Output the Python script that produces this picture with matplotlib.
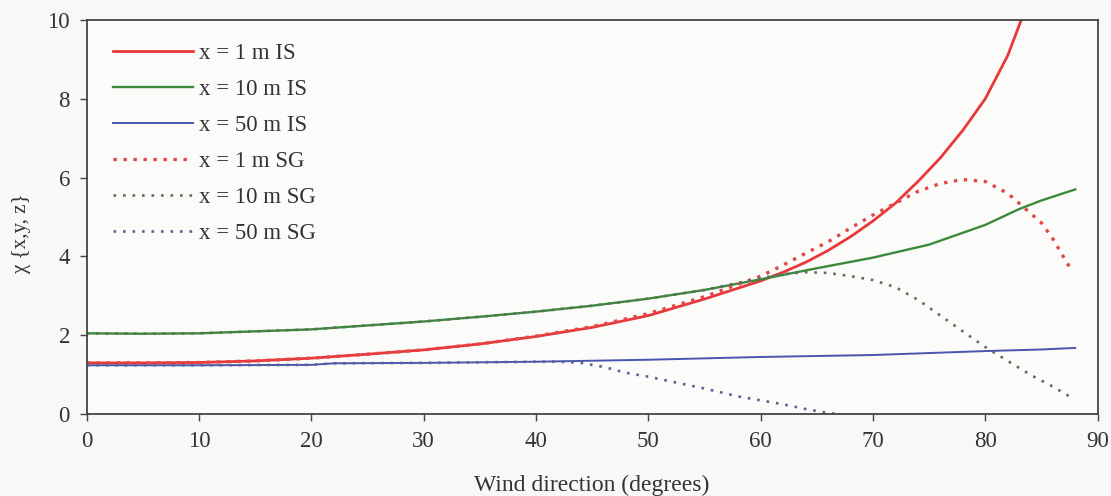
import numpy as np
import matplotlib.pyplot as plt

plt.rcParams['font.family'] = ['Liberation Serif', 'DejaVu Serif']

# Wind direction (degrees) and concentration ratio chi for the IS and SG models
deg_1is = [0, 5, 10, 15, 20, 25, 30, 35, 40, 45, 50, 55, 60, 62, 64, 66, 68,
           70, 72, 74, 76, 78, 80, 82, 83.2]
chi_1is = [1.30, 1.30, 1.31, 1.35, 1.42, 1.52, 1.63, 1.78, 1.97, 2.20, 2.50,
           2.92, 3.38, 3.60, 3.85, 4.15, 4.50, 4.90, 5.35, 5.90, 6.50, 7.20,
           8.00, 9.10, 10.0]

deg_10is = [0, 5, 10, 15, 20, 25, 30, 35, 40, 45, 50, 55, 60, 65, 70, 75, 77,
            80, 83, 85, 88]
chi_10is = [2.05, 2.04, 2.05, 2.10, 2.15, 2.25, 2.35, 2.47, 2.60, 2.75, 2.93,
            3.15, 3.42, 3.70, 3.97, 4.30, 4.50, 4.80, 5.20, 5.42, 5.70]

deg_50is = [0, 10, 20, 22, 30, 40, 50, 60, 70, 75, 80, 85, 88]
chi_50is = [1.24, 1.24, 1.25, 1.29, 1.30, 1.33, 1.38, 1.45, 1.50, 1.55, 1.60,
            1.64, 1.68]

deg_1sg = [0, 5, 10, 15, 20, 25, 30, 35, 40, 45, 50, 55, 60, 62, 64, 66, 68,
           70, 72, 74, 76, 78, 80, 82, 84, 85, 86, 87.5]
chi_1sg = [1.30, 1.30, 1.31, 1.35, 1.42, 1.52, 1.63, 1.78, 1.98, 2.22, 2.55,
           2.98, 3.50, 3.78, 4.08, 4.37, 4.72, 5.05, 5.35, 5.65, 5.85, 5.95,
           5.90, 5.60, 5.10, 4.85, 4.45, 3.73]

deg_10sg = [0, 5, 10, 15, 20, 25, 30, 35, 40, 45, 50, 55, 60, 62, 64, 66, 68,
            70, 72, 74, 76, 78, 80, 82, 84, 86, 87.5]
chi_10sg = [2.05, 2.04, 2.05, 2.10, 2.15, 2.25, 2.35, 2.47, 2.60, 2.75, 2.93,
            3.15, 3.45, 3.55, 3.60, 3.58, 3.50, 3.40, 3.22, 2.90, 2.50, 2.10,
            1.70, 1.35, 1.00, 0.70, 0.45]

deg_50sg = [0, 10, 20, 22, 30, 40, 42, 44, 46, 48, 50, 52, 55, 58, 60, 62, 64,
            66, 67]
chi_50sg = [1.24, 1.24, 1.25, 1.29, 1.30, 1.33, 1.33, 1.30, 1.20, 1.05, 0.95,
            0.83, 0.65, 0.45, 0.35, 0.25, 0.13, 0.03, 0.0]

fig = plt.figure(figsize=(11.11, 4.96), dpi=100, facecolor='#f8f8f6')
ax = fig.add_axes([0.078, 0.165, 0.91, 0.795])
ax.set_facecolor('#fbfbfa')

ax.plot(deg_1is, chi_1is, color='#e8383a', lw=2.0, label='x = 1 m IS')
ax.plot(deg_10is, chi_10is, color='#3a8a3a', lw=1.7, label='x = 10 m IS')
ax.plot(deg_50is, chi_50is, color='#4a55b0', lw=1.4, label='x = 50 m IS')
ax.plot(deg_1sg, chi_1sg, color='#e04848', lw=2.4, ls=(0, (1, 2.0)),
        label='x = 1 m SG')
ax.plot(deg_10sg, chi_10sg, color='#5b7060', lw=1.9, ls=(0, (1, 2.6)),
        label='x = 10 m SG')
ax.plot(deg_50sg, chi_50sg, color='#5a6494', lw=1.9, ls=(0, (1, 2.6)),
        label='x = 50 m SG')

ax.set_xlim(0, 90)
ax.set_ylim(0, 10)
ax.set_xticks(range(0, 91, 10))
ax.set_yticks(range(0, 11, 2))
ax.tick_params(direction='out', length=5, width=1, colors='#444444',
               labelsize=16.5, labelcolor='#333333', pad=7)
for s in ax.spines.values():
    s.set_color('#444444')
    s.set_linewidth(1.3)

ax.set_xlabel('Wind direction (degrees)', fontsize=17, color='#333333')
ax.xaxis.set_label_coords(0.5, -0.155, transform=ax.transAxes)
ax.xaxis.label.set_va('top')
ax.set_ylabel('χ {x,y, z}', fontsize=15, color='#333333')
ax.yaxis.set_label_coords(-0.055, 0.46)

leg = ax.legend(loc='upper left', frameon=False, fontsize=16.5,
                handlelength=3.5, handletextpad=0.25, labelspacing=0.65,
                borderaxespad=0.0, bbox_to_anchor=(0.017, 0.965))
for t in leg.get_texts():
    t.set_color('#333333')

fig.savefig('out.png', dpi=100, facecolor=fig.get_facecolor())
